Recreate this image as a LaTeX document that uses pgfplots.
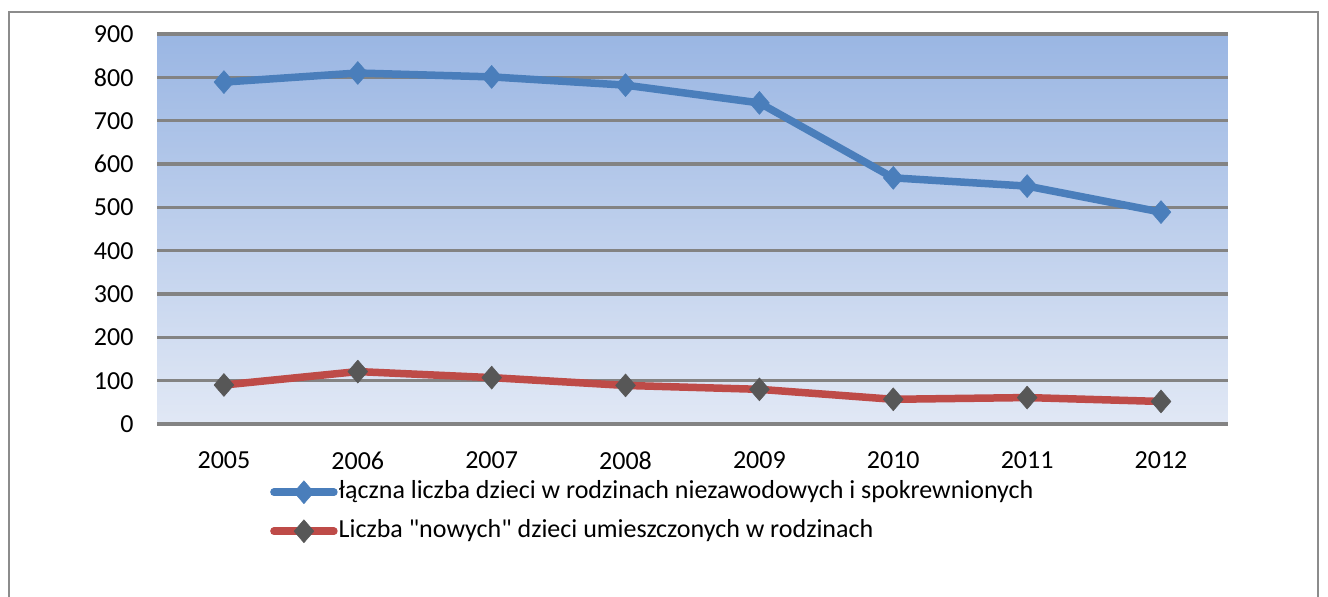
\documentclass[border=0pt]{standalone}
\usepackage{fontspec}
\setmainfont{Carlito}
\newfontfamily\plainfont{Carlito}
\usepackage{pgfplots}
\pgfplotsset{compat=1.18}
\definecolor{bgtop}{HTML}{9AB6E3}
\definecolor{bgbot}{HTML}{E1E8F5}
\definecolor{gridc}{HTML}{838383}
\definecolor{serblue}{HTML}{4A7EBB}
\definecolor{serred}{HTML}{BE4B48}
\definecolor{markgray}{HTML}{575757}
\definecolor{framec}{HTML}{8C8C8C}
\begin{document}
\begin{tikzpicture}
\useasboundingbox (0,0) rectangle (1328bp,597bp);
\draw[framec, line width=2bp] (9bp,-20bp) -- (9bp,585bp) -- (1318bp,585bp) -- (1318bp,-20bp);
\begin{axis}[
  at={(157bp,173bp)}, anchor=south west,
  scale only axis, width=1071bp, height=390bp,
  xmin=-0.5, xmax=7.5, ymin=0, ymax=900,
  xtick={0,...,7}, xticklabels={2005,2006,2007,2008,2009,2010,2011,2012},
  ytick={0,100,...,900},
  axis line style={draw=none},
  major tick length=0pt,
  ymajorgrids, major grid style={gridc, line width=3.2bp},
  axis background/.style={top color=bgtop, bottom color=bgbot},
  tick label style={font=\plainfont\fontsize{26bp}{30bp}\selectfont, text=black},
  /pgf/number format/assume math mode=true,
  /pgf/number format/1000 sep={},
  yticklabel style={xshift=-20bp},
  xticklabel style={yshift=-24bp},
  clip=false,
  legend style={draw=none, fill=none, at={(0.1055,-0.145)}, anchor=north west,
    inner sep=0pt, font=\plainfont\fontsize{26bp}{30bp}\selectfont,
    row sep=16bp, column sep=1bp,
    nodes={inner sep=0bp, text height=17bp, text depth=5bp}},
  legend cell align=left,
  legend image code/.code={\draw[mark repeat=2,mark phase=2,#1] plot coordinates {(0bp,0bp)(30bp,0bp)(60bp,0bp)};},
]
\addplot[serblue, line width=7.5bp, line cap=round, line join=round, mark=diamond*,
  mark options={solid, fill=serblue, draw=serblue, line width=0.5bp, xscale=1.15}, mark size=11.5bp]
  coordinates {(0,789) (1,810) (2,801) (3,782) (4,741) (5,568) (6,549) (7,489)};
\addlegendentry{łączna liczba dzieci w rodzinach niezawodowych i spokrewnionych}
\addplot[serred, line width=7.5bp, line cap=round, line join=round, mark=diamond*,
  mark options={solid, fill=markgray, draw=markgray, line width=0.5bp, xscale=1.15}, mark size=11.5bp]
  coordinates {(0,90) (1,121) (2,107) (3,89) (4,80) (5,57) (6,61) (7,52)};
\addlegendentry{Liczba "nowych" dzieci umieszczonych w rodzinach}
\end{axis}
\end{tikzpicture}
\end{document}
